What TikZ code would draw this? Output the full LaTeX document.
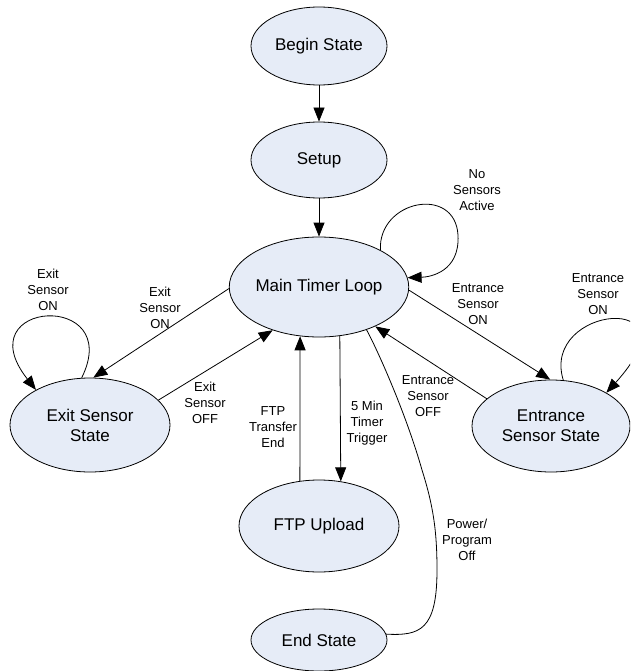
\documentclass[tikz,border=0pt]{standalone}
\usepackage{fontspec}
\setmainfont{Liberation Sans}
\usetikzlibrary{shapes.geometric,arrows.meta}
\definecolor{statefill}{RGB}{230,236,247}
\begin{document}
\begin{tikzpicture}[x=1pt,y=-1pt,
  state/.style={ellipse,draw=black,fill=statefill,line width=0.8pt,inner sep=0pt,
    font=\fontsize{17}{20}\selectfont,align=center},
  arr/.style={-{Triangle[length=14pt,width=11pt]},line width=0.8pt},
  plain/.style={line width=0.8pt},
  lbl/.style={font=\fontsize{13}{16}\selectfont,align=center,inner sep=0pt}]
\useasboundingbox (0,0) rectangle (630,671);
\clip (0,0) rectangle (630,671);

% states
\node[state,minimum width=136pt,minimum height=78pt] (begin) at (319,46) {Begin State};
\node[state,minimum width=136pt,minimum height=76pt] (setup) at (319,160) {Setup};
\node[state,minimum width=176pt,minimum height=100pt] (main) at (319,287) {Main Timer Loop};
\node[state,minimum width=160pt,minimum height=94pt] (exit) at (90,425) {Exit Sensor\\State};
\node[state,minimum width=158pt,minimum height=92pt] (entr) at (551,426) {Entrance\\Sensor State};
\node[state,minimum width=160pt,minimum height=92pt] (ftp) at (319,526) {FTP Upload};
\node[state,minimum width=136pt,minimum height=62pt] (endst) at (319,640) {End State};

% connectors
\draw[arr] (begin.south) -- (setup.north);
\draw[arr] (setup.south) -- (main.north);
\draw[arr] (main.181) -- (exit.86);
\draw[arr] (exit.20) -- (main.223);
\draw[arr] (exit.100) .. controls (125,290) and (-35,300) .. (exit.147);
\draw[arr] (main.31) .. controls (378,200) and (455,185) .. (458,235)
  .. controls (460,272) and (430,277) .. (main.6);
\draw[arr] (main.358) -- (entr.91);
\draw[arr] (entr.157) -- (main.325);
\draw[arr] (entr.75) .. controls (540,305) and (700,290) .. (entr.31);
\draw[arr] (ftp.113) -- (main.249);
\draw[arr] (main.293.4) -- (ftp.64.7);
\draw[plain] (main.318) .. controls (375,345) and (405,410) .. (422,470)
  .. controls (433,505) and (437,530) .. (437,570)
  .. controls (437,630) and (420,636) .. (endst.5);

% labels
\node[lbl] (l1) at (477,190) {No\\Sensors\\Active};
\node[lbl] (l2) at (48,290) {Exit\\Sensor\\ON};
\node[lbl] (l3) at (160,308) {Exit\\Sensor\\ON};
\node[lbl] (l4) at (205,403) {Exit\\Sensor\\OFF};
\node[lbl] (l5) at (273,427) {FTP\\Transfer\\End};
\node[lbl] (l6) at (478,304) {Entrance\\Sensor\\ON};
\node[lbl] (l7) at (598,294) {Entrance\\Sensor\\ON};
\node[lbl] (l8) at (428,396) {Entrance\\Sensor\\OFF};
\node[lbl] (l9) at (367,423) {5 Min\\Timer\\Trigger};
\node[lbl] (l10) at (467,540) {Power/\\Program\\Off};
\end{tikzpicture}
\end{document}
